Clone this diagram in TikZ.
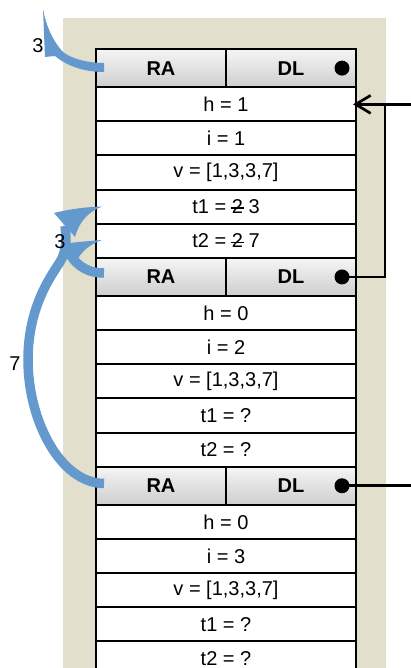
\documentclass[tikz,border=0pt]{standalone}
\usepackage{fontspec}
\setmainfont{Liberation Sans}
\usetikzlibrary{arrows.meta}
\definecolor{paper}{RGB}{226,223,205}
\definecolor{retblue}{RGB}{99,153,204}
\definecolor{hdtop}{RGB}{245,245,245}
\definecolor{hdbot}{RGB}{206,206,206}
% a digit crossed out by a short horizontal bar
\newcommand\struck[1]{\ooalign{#1\cr\hidewidth\rule[0.24em]{0.62em}{1.3pt}\hidewidth\cr}}
\begin{document}
\begin{tikzpicture}[x=1pt,y=-1pt,
  font=\fontsize{20}{24}\selectfont,
  cell/.style={draw, line width=2pt, fill=white, minimum width=260pt,
    minimum height=34.1pt, inner sep=0pt, anchor=north west},
  hcell/.style={draw, line width=2pt, minimum width=130pt, minimum height=38.3pt,
    inner sep=0pt, anchor=north west, top color=hdtop, bottom color=hdbot,
    font=\fontsize{20}{24}\selectfont\bfseries},
  dot/.style={circle, fill=black, minimum size=15pt, inner sep=0pt},
  link/.style={line width=2.7pt},
  shaft/.style={draw=retblue, line width=9.5pt},
  head/.style={fill=retblue, draw=none},
  lab/.style={inner sep=0pt}]
\useasboundingbox (0,0) rectangle (411,668);

% stack area
\fill[paper] (63,18) rectangle (386,668);

% three activation frames
\foreach \hv/\iv/\ta/\tb [count=\k from 0] in
  {1/1/{\struck{2} 3}/{\struck{2} 7}, 0/2/?/?, 0/3/?/?} {
  \pgfmathsetmacro\ytop{48+\k*208.8}
  \node[hcell] (ra\k) at (95,\ytop) {RA};
  \node[hcell] (dl\k) at (225,\ytop) {DL};
  \node[cell] (h\k) at (95,\ytop+38.3) {h = \hv};
  \node[cell] (i\k) at (95,\ytop+38.3+34.1) {i = \iv};
  \node[cell] (v\k) at (95,\ytop+38.3+2*34.1) {v = [1,3,3,7]};
  \node[cell] (ta\k) at (95,\ytop+38.3+3*34.1) {t1 = \ta};
  \node[cell] (tb\k) at (95,\ytop+38.3+4*34.1) {t2 = \tb};
  \node[dot] (b\k) at ([xshift=-15pt]dl\k.east) {};
}

% dynamic links
\coordinate (inA) at ([xshift=56pt]h0.east);
\coordinate (jn) at ([xshift=28pt]h0.east);
\coordinate (tipA) at ([xshift=-4pt]h0.east);
\coordinate (outC) at ([xshift=71pt]b2.center);
\draw[link, -{Straight Barb[length=15pt,width=18pt,line width=2.7pt]}] (inA) -- (tipA);
\draw[link] (b1.center) -| (jn);
\draw[link] (b2.center) -- (outC);

% return arrows
\fill[head] (104,63) .. controls (88,63) and (72,59) .. (63,52)
  .. controls (52,40) and (46,25) .. (43,9) -- (45,57) -- (55,56)
  .. controls (68,67) and (86,72) .. (104,72) -- cycle;

\draw[shaft] (104,483.5) .. controls (60,483) and (28,420) .. (28,360)
  .. controls (28,310) and (48,280) .. (60,262)
  .. controls (66,252) and (67,240) .. (65,226);
\fill[head] (54,213) .. controls (70,209) and (86,207) .. (102,206.5)
  .. controls (88,212) and (79,222) .. (75,237) -- cycle;

\draw[shaft] (104,273) .. controls (90,273) and (78,268) .. (69,253);
\fill[head] (62,244) .. controls (76,242) and (90,241) .. (102,240)
  .. controls (90,244) and (80,252) .. (76,263) -- cycle;

% returned values
\node[lab] (l1) at (38,46) {3};
\node[lab] (l2) at (60,242) {3};
\node[lab] (l3) at (15,364) {7};
\end{tikzpicture}
\end{document}
